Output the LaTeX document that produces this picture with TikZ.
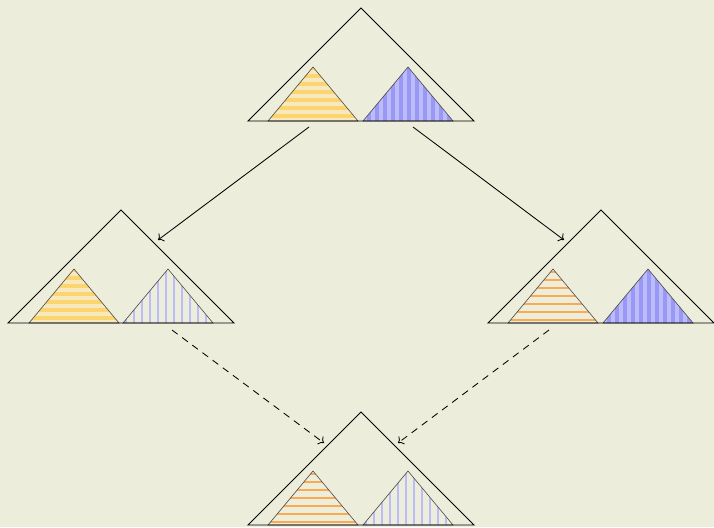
\documentclass[tikz,border=0pt]{standalone}
\usetikzlibrary{arrows.meta}

\definecolor{bg}{RGB}{237,237,220}
\definecolor{yellowdark}{RGB}{251,214,112}
\definecolor{yellowlight}{RGB}{248,232,190}
\definecolor{bluedark}{RGB}{153,153,245}
\definecolor{bluelight}{RGB}{188,188,251}
\definecolor{orangeline}{RGB}{255,168,78}
\definecolor{lilacline}{RGB}{188,188,246}

% stripe fills, in the local frame of a subtree (apex at origin)
\newcommand{\fillyellow}{%
  \fill[yellowlight] (-50,-5) rectangle (50,60);
  \foreach \y in {-1.3,6.7,...,46.7} \fill[yellowdark] (-50,\y) rectangle (50,\y+4.5);}
\newcommand{\fillblue}{%
  \fill[bluelight] (-50,-5) rectangle (50,60);
  \foreach \x in {-49.3,-41.3,...,46.7} \fill[bluedark] (\x,-5) rectangle (\x+4,60);}
\newcommand{\fillorange}{%
  \foreach \y in {2.7,10.7,...,50.7} \fill[orangeline] (-50,\y-0.9) rectangle (50,\y+0.9);}
\newcommand{\filllilac}{%
  \foreach \x in {-42.3,-34.3,...,45.7} \fill[lilacline] (\x-0.9,-5) rectangle (\x+0.9,60);}

% one subtree: x offset of its apex, fill name
\newcommand{\subtree}[2]{%
  \begin{scope}[shift={(#1,59)}]
    \begin{scope}
      \clip (-45,54) -- (0,0) -- (45,54) -- cycle;
      \csname fill#2\endcsname
    \end{scope}
    \draw[subedge] (-45,54) -- (0,0) -- (45,54) -- cycle;
  \end{scope}}

\begin{document}
\begin{tikzpicture}[
  x=0.025cm, y=-0.025cm,
  outer/.style={line width=0.6pt, line join=miter},
  subedge/.style={line width=0.45pt, draw=black!70},
  edge/.style={line width=0.6pt, -{To[length=3.5pt,width=7pt]}},
  merge/.style={edge, dash pattern=on 5pt off 4pt}
]
\path[use as bounding box, fill=bg] (0,0) rectangle (714,527);

% Top tree
\begin{scope}[shift={(361,8)}]
  \subtree{-48}{yellow}
  \subtree{47}{blue}
  \draw[outer] (-113,113) -- (0,0) -- (113,113) -- cycle;
\end{scope}

% Left tree
\begin{scope}[shift={(121,210)}]
  \subtree{-47}{yellow}
  \subtree{47}{lilac}
  \draw[outer] (-113,113) -- (0,0) -- (113,113) -- cycle;
\end{scope}

% Right tree
\begin{scope}[shift={(601,210)}]
  \subtree{-48}{orange}
  \subtree{47}{blue}
  \draw[outer] (-113,113) -- (0,0) -- (113,113) -- cycle;
\end{scope}

% Bottom tree
\begin{scope}[shift={(361,412)}]
  \subtree{-48}{orange}
  \subtree{47}{lilac}
  \draw[outer] (-113,113) -- (0,0) -- (113,113) -- cycle;
\end{scope}

\coordinate (top-l) at (309,127);
\coordinate (top-r) at (413,127);
\coordinate (left-in) at (158,240);
\coordinate (right-in) at (564,240);
\coordinate (left-out) at (172,330);
\coordinate (right-out) at (549,330);
\coordinate (bot-l) at (324,443);
\coordinate (bot-r) at (398,443);

\draw[edge] (top-l) -- (left-in);
\draw[edge] (top-r) -- (right-in);
\draw[merge] (left-out) -- (bot-l);
\draw[merge] (right-out) -- (bot-r);
\end{tikzpicture}
\end{document}
